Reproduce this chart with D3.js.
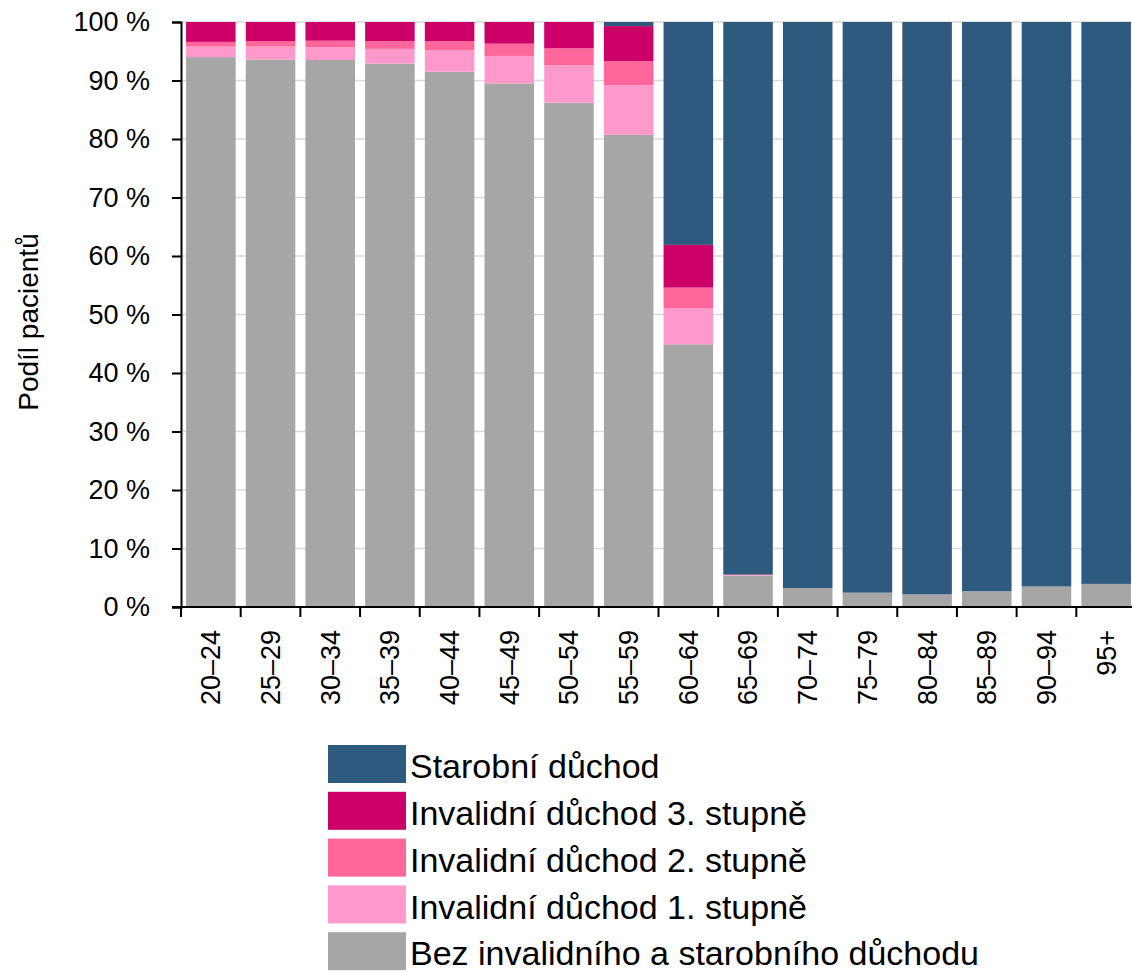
<!DOCTYPE html>
<html>
<head>
<meta charset="utf-8">
<script src="https://cdn.jsdelivr.net/npm/d3@7"></script>
<style>
  body { margin: 0; background: #fff; }
  text { font-family: "Liberation Sans", Arial, sans-serif; fill: #000; }
</style>
</head>
<body>
<div id="main_div"></div>
<script>
const categories = ["20–24", "25–29", "30–34", "35–39", "40–44", "45–49", "50–54", "55–59",
    "60–64", "65–69", "70–74", "75–79", "80–84", "85–89", "90–94", "95+"];

const bez = [94.0, 93.6, 93.5, 92.9, 91.5, 89.5, 86.2, 80.7, 44.9, 5.35, 3.25, 2.45, 2.15, 2.7, 3.5, 3.95];
const inv1 = [1.8, 2.2, 2.2, 2.5, 3.7, 4.7, 6.4, 8.5, 6.2, 0.1, 0, 0, 0, 0, 0, 0];
const inv2 = [0.8, 0.95, 1.1, 1.3, 1.5, 2.1, 2.9, 4.1, 3.5, 0.05, 0, 0, 0, 0, 0, 0];
const inv3 = [3.4, 3.25, 3.2, 3.3, 3.3, 3.7, 4.5, 6.0, 7.3, 0.05, 0, 0, 0, 0, 0, 0];
const starobni = [0, 0, 0, 0, 0, 0, 0, 0.7, 38.1, 94.45, 96.75, 97.55, 97.85, 97.3, 96.5, 96.05];

const seriesNames = ["Bez invalidního a starobního důchodu", "Invalidní důchod 1. stupně",
    "Invalidní důchod 2. stupně", "Invalidní důchod 3. stupně", "Starobní důchod"];
const seriesKeys = ["bez", "inv1", "inv2", "inv3", "star"];
const colors = ["#a6a6a6", "#ff99cc", "#ff6699", "#cc0066", "#2e5a80"];
const yTicks = [0, 10, 20, 30, 40, 50, 60, 70, 80, 90, 100];

function draw() {
    const W = 1132, H = 972;
    const left = 181, right = 1136, top = 22, bottom = 607;

    const rows = categories.map((c, i) => ({
        cat: c, bez: bez[i], inv1: inv1[i], inv2: inv2[i], inv3: inv3[i], star: starobni[i]
    }));
    const stacked = d3.stack().keys(seriesKeys)(rows);

    const svg = d3.select("#main_div")
        .append("svg")
        .attr("width", W)
        .attr("height", H);

    const xScale = d3.scaleBand()
        .domain(categories)
        .range([left, right])
        .paddingInner(0.17)
        .paddingOuter(0.085);

    const yScale = d3.scaleLinear()
        .domain([0, 100])
        .range([bottom, top]);

    // gridlines
    svg.append("g")
        .selectAll("line")
        .data(yTicks.filter(t => t > 0))
        .join("line")
        .attr("x1", left)
        .attr("x2", W)
        .attr("y1", d => yScale(d))
        .attr("y2", d => yScale(d))
        .attr("stroke", "#d9d9d9")
        .attr("stroke-width", 1.5);

    // bars
    svg.append("g")
        .selectAll("g")
        .data(stacked)
        .join("g")
        .attr("fill", (d, i) => colors[i])
        .selectAll("rect")
        .data(d => d)
        .join("rect")
        .attr("x", d => xScale(d.data.cat))
        .attr("width", xScale.bandwidth())
        .attr("y", d => yScale(d[1]))
        .attr("height", d => yScale(d[0]) - yScale(d[1]));

    // y axis
    const yAxis = svg.append("g")
        .attr("transform", `translate(${left},0)`)
        .call(d3.axisLeft(yScale)
            .tickValues(yTicks)
            .tickFormat(d => d + " %")
            .tickSize(9)
            .tickPadding(22));
    yAxis.select(".domain").attr("stroke", "#000").attr("stroke-width", 2);
    yAxis.selectAll(".tick line").attr("stroke", "#000").attr("stroke-width", 2);
    yAxis.selectAll("text")
        .style("font-family", "'Liberation Sans', Arial, sans-serif")
        .style("font-size", "27px")
        .attr("fill", "#000");

    // x axis line and ticks at band boundaries
    svg.append("line")
        .attr("x1", left - 9)
        .attr("x2", W)
        .attr("y1", bottom)
        .attr("y2", bottom)
        .attr("stroke", "#000")
        .attr("stroke-width", 2);

    const step = xScale.step();
    const bounds = categories.map((c, i) => left + i * step);
    svg.append("g")
        .selectAll("line")
        .data(bounds)
        .join("line")
        .attr("x1", d => d)
        .attr("x2", d => d)
        .attr("y1", bottom)
        .attr("y2", bottom + 10)
        .attr("stroke", "#000")
        .attr("stroke-width", 2);

    svg.append("g")
        .selectAll("text")
        .data(categories)
        .join("text")
        .attr("transform", d => `translate(${xScale(d) + xScale.bandwidth() / 2},630) rotate(-90)`)
        .attr("text-anchor", "end")
        .attr("dy", "0.35em")
        .style("font-size", "27px")
        .text(d => d);

    // y title
    svg.append("text")
        .attr("transform", "translate(28,322) rotate(-90)")
        .attr("text-anchor", "middle")
        .attr("dy", "0.35em")
        .style("font-size", "28px")
        .text("Podíl pacientů");

    // legend
    const legendOrder = [4, 3, 2, 1, 0];
    const lg = svg.append("g")
        .selectAll("g")
        .data(legendOrder)
        .join("g")
        .attr("transform", (d, i) => `translate(328,${745 + i * 46.8})`);
    lg.append("rect")
        .attr("width", 78)
        .attr("height", 38)
        .attr("fill", d => colors[d]);
    lg.append("text")
        .attr("x", 82)
        .attr("y", 21)
        .attr("dy", "0.36em")
        .style("font-size", "34px")
        .text(d => seriesNames[d]);
}

d3.select(window).on("load", draw);
</script>
</body>
</html>
